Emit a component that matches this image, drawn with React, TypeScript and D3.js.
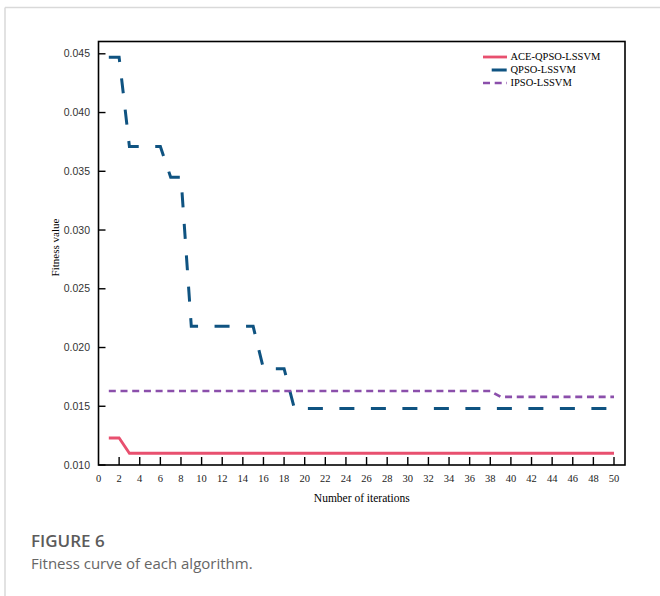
import React from 'react';
import * as d3 from 'd3';

// iteration index (x) for every point of the three curves
const iterations = [
  1, 2, 3, 4, 5, 6, 7, 8, 9, 10,
  11, 12, 13, 14, 15, 16, 17, 18, 19, 20,
  21, 22, 23, 24, 25, 26, 27, 28, 29, 30,
  31, 32, 33, 34, 35, 36, 37, 38, 39, 40,
  41, 42, 43, 44, 45, 46, 47, 48, 49, 50,
];

const aceQpso = [
  0.0123, 0.0123, 0.0110, 0.0110, 0.0110, 0.0110, 0.0110, 0.0110, 0.0110, 0.0110,
  0.0110, 0.0110, 0.0110, 0.0110, 0.0110, 0.0110, 0.0110, 0.0110, 0.0110, 0.0110,
  0.0110, 0.0110, 0.0110, 0.0110, 0.0110, 0.0110, 0.0110, 0.0110, 0.0110, 0.0110,
  0.0110, 0.0110, 0.0110, 0.0110, 0.0110, 0.0110, 0.0110, 0.0110, 0.0110, 0.0110,
  0.0110, 0.0110, 0.0110, 0.0110, 0.0110, 0.0110, 0.0110, 0.0110, 0.0110, 0.0110,
];

const qpso = [
  0.0447, 0.0447, 0.0371, 0.0371, 0.0371, 0.0371, 0.0345, 0.0345, 0.0218, 0.0218,
  0.0218, 0.0218, 0.0218, 0.0218, 0.0218, 0.0182, 0.0182, 0.0182, 0.0148, 0.0148,
  0.0148, 0.0148, 0.0148, 0.0148, 0.0148, 0.0148, 0.0148, 0.0148, 0.0148, 0.0148,
  0.0148, 0.0148, 0.0148, 0.0148, 0.0148, 0.0148, 0.0148, 0.0148, 0.0148, 0.0148,
  0.0148, 0.0148, 0.0148, 0.0148, 0.0148, 0.0148, 0.0148, 0.0148, 0.0148, 0.0148,
];

const ipso = [
  0.0163, 0.0163, 0.0163, 0.0163, 0.0163, 0.0163, 0.0163, 0.0163, 0.0163, 0.0163,
  0.0163, 0.0163, 0.0163, 0.0163, 0.0163, 0.0163, 0.0163, 0.0163, 0.0163, 0.0163,
  0.0163, 0.0163, 0.0163, 0.0163, 0.0163, 0.0163, 0.0163, 0.0163, 0.0163, 0.0163,
  0.0163, 0.0163, 0.0163, 0.0163, 0.0163, 0.0163, 0.0163, 0.0163, 0.0158, 0.0158,
  0.0158, 0.0158, 0.0158, 0.0158, 0.0158, 0.0158, 0.0158, 0.0158, 0.0158, 0.0158,
];

const xTicks = [0, 2, 4, 6, 8, 10, 12, 14, 16, 18, 20, 22, 24, 26, 28, 30, 32, 34, 36, 38, 40, 42, 44, 46, 48, 50];
const yTicks = [0.010, 0.015, 0.020, 0.025, 0.030, 0.035, 0.040, 0.045];

const seriesNames = ['ACE-QPSO-LSSVM', 'QPSO-LSSVM', 'IPSO-LSSVM'];

const SERIF = '"Liberation Serif", "Times New Roman", serif';
const SANS = '"Liberation Sans", Arial, sans-serif';

const series = [
  { name: seriesNames[0], values: aceQpso, color: '#e8506f', width: 2.8, dash: null, legendOffset: 0 },
  { name: seriesNames[1], values: qpso, color: '#0f5381', width: 3, dash: '15,16.5', legendOffset: 22.8 },
  { name: seriesNames[2], values: ipso, color: '#8b4fab', width: 2.6, dash: '7,4.7', legendOffset: 0 },
];

const plot = { left: 98.5, right: 625, top: 41.5, bottom: 465 };

const App = () => {
  const x = d3.scaleLinear().domain([0, 50]).range([98.5, 614]);
  const y = d3.scaleLinear().domain([0.010, 0.045]).range([465, 53.8]);

  const line = d3.line<[number, number]>()
    .x(d => x(d[0]))
    .y(d => y(d[1]));

  return (
    <svg width={660} height={596} style={{ position: 'absolute', left: 0, top: 0, background: '#fff' }}>
      {/* card edges */}
      <line x1={5} y1={7.5} x2={660} y2={7.5} stroke="#d9d9d9" strokeWidth={1.5} />
      <line x1={5} y1={7.5} x2={5} y2={596} stroke="#d9d9d9" strokeWidth={1.5} />

      {/* curves */}
      {series.map(s => (
        <path
          key={s.name}
          d={line(iterations.map((it, i) => [it, s.values[i]] as [number, number])) || ''}
          fill="none"
          stroke={s.color}
          strokeWidth={s.width}
          strokeDasharray={s.dash || undefined}
          strokeLinejoin="miter"
        />
      ))}

      {/* frame */}
      <rect
        x={plot.left}
        y={plot.top}
        width={plot.right - plot.left}
        height={plot.bottom - plot.top}
        fill="none"
        stroke="#000"
        strokeWidth={1.6}
      />

      {/* y axis */}
      {yTicks.map(t => (
        <g key={t}>
          <line x1={plot.left} x2={plot.left + 7} y1={y(t)} y2={y(t)} stroke="#000" strokeWidth={1.4} />
          <text x={90} y={y(t)} dy="0.35em" textAnchor="end" fontFamily={SANS} fontSize={10.5} fill="#333">
            {d3.format('.3f')(t)}
          </text>
        </g>
      ))}

      {/* x axis */}
      {xTicks.map(t => (
        <g key={t}>
          {t > 0 && (
            <line x1={x(t)} x2={x(t)} y1={plot.bottom} y2={plot.bottom - 8} stroke="#000" strokeWidth={1.4} />
          )}
          <text x={x(t)} y={482} textAnchor="middle" fontFamily={SERIF} fontSize={10.5} fill="#222">
            {t}
          </text>
        </g>
      ))}

      <text x={(plot.left + plot.right) / 2} y={502} textAnchor="middle" fontFamily={SERIF} fontSize={11.5} fill="#000">
        Number of iterations
      </text>
      <text transform="translate(58.5,247.5) rotate(-90)" textAnchor="middle" fontFamily={SERIF} fontSize={11} fill="#000">
        Fitness value
      </text>

      {/* legend */}
      {series.map((s, i) => {
        const ly = 57 + i * 13;
        return (
          <g key={s.name}>
            <line
              x1={483}
              x2={507}
              y1={ly}
              y2={ly}
              stroke={s.color}
              strokeWidth={s.width}
              strokeDasharray={s.dash || undefined}
              strokeDashoffset={s.legendOffset}
            />
            <text x={510.5} y={ly} dy="0.33em" fontFamily={SERIF} fontSize={10.5} fill="#000">
              {s.name}
            </text>
          </g>
        );
      })}

      {/* caption */}
      <text x={31} y={547} fontFamily='"Open Sans", sans-serif' fontSize={17} fontWeight={600} fill="#5b5b5b">
        FIGURE 6
      </text>
      <text x={31} y={569} fontFamily='"Open Sans", sans-serif' fontSize={15} fill="#666">
        Fitness curve of each algorithm.
      </text>
    </svg>
  );
};

export default App;
